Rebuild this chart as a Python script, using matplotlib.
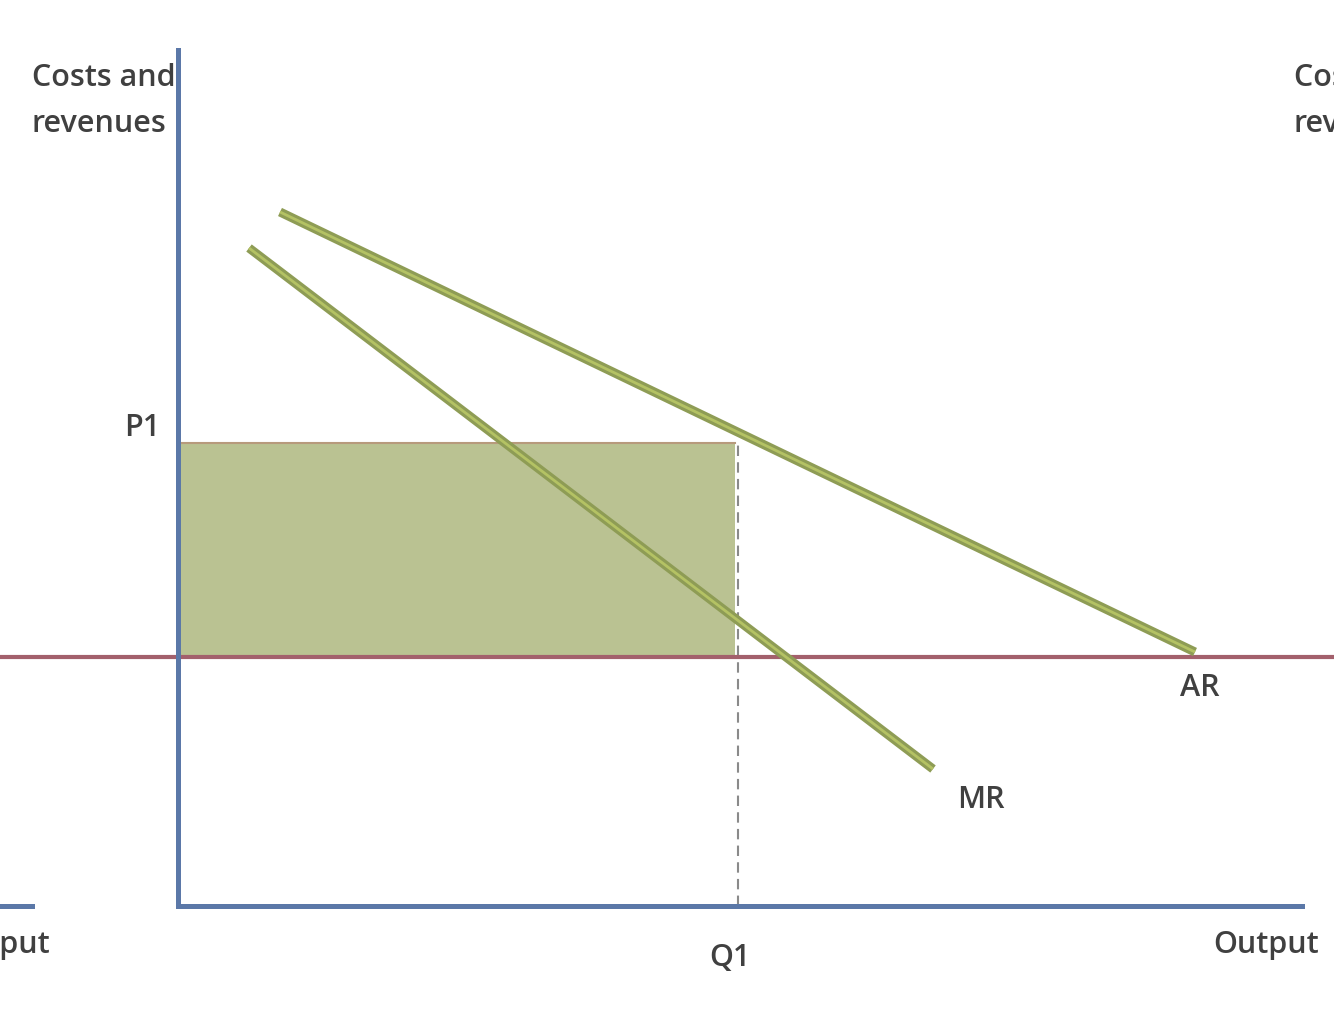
import matplotlib.pyplot as plt
from matplotlib.patches import Rectangle

plt.rcParams['font.family'] = ['Open Sans', 'DejaVu Sans']

# diagram values (origin at the corner of the main axes)
ar_q = [102, 1017]
ar_p = [694, 254]
mr_q = [71, 755]
mr_p = [658, 137]
p1 = 463
cost = 249
q1 = 560
y_top = 856
x_right = 1124

axis_col = '#5b78a8'
curve_col = '#8e9c55'
curve_hi = '#b4c264'
cost_col = '#a3606c'
text_col = '#404040'

fig = plt.figure(figsize=(13.34, 10.26), dpi=100)
ax = fig.add_axes([0, 0, 1, 1])
ax.set_xlim(-178, 1156)
ax.set_ylim(-120, 906)
ax.axis('off')

# profit rectangle
ax.add_patch(Rectangle((0, cost), q1 - 3, p1 - cost, facecolor='#bac292',
                       edgecolor='none', zorder=1))
ax.plot([0, q1 - 3], [p1, p1], color='#b79a7c', lw=1.5, zorder=2)

# AC = MC horizontal
ax.axhline(cost, color=cost_col, lw=3, zorder=3)

# dashed Q1 line
ax.plot([q1, q1], [0, p1], color='#8a8a8a', lw=1.5, ls=(0, (5, 3)), zorder=2)

# AR and MR
for q, p in [(ar_q, ar_p), (mr_q, mr_p)]:
    ax.plot(q, p, color=curve_col, lw=6.5, solid_capstyle='butt', zorder=4)
    ax.plot(q, p, color=curve_hi, lw=2, solid_capstyle='butt', zorder=5)

# axes
ax.plot([0, 0], [0, y_top], color=axis_col, lw=3.6, zorder=6)
ax.plot([0, x_right], [0, 0], color=axis_col, lw=3.6, zorder=6)
ax.plot([-178, -146], [0, 0], color=axis_col, lw=3.6, zorder=6)

fs = 22
kw = dict(fontsize=fs, color=text_col, fontweight='semibold')
ax.text(-146, 843, 'Costs and\nrevenues', va='top', ha='left',
        linespacing=1.7, **kw)
ax.text(1116, 843, 'Costs and\nrevenues', va='top', ha='left',
        linespacing=1.7, clip_on=False, **kw)
ax.text(-18, 478, 'P1', ha='right', va='center', **kw)
ax.text(q1 - 8, -52, 'Q1', ha='center', va='center', **kw)
ax.text(803, 106, 'MR', ha='center', va='center', **kw)
ax.text(1022, 218, 'AR', ha='center', va='center', **kw)
ax.text(1088, -39, 'Output', ha='center', va='center', **kw)
ax.text(-128, -39, 'Output', ha='right', va='center', **kw)

fig.savefig('out.png', dpi=100)
